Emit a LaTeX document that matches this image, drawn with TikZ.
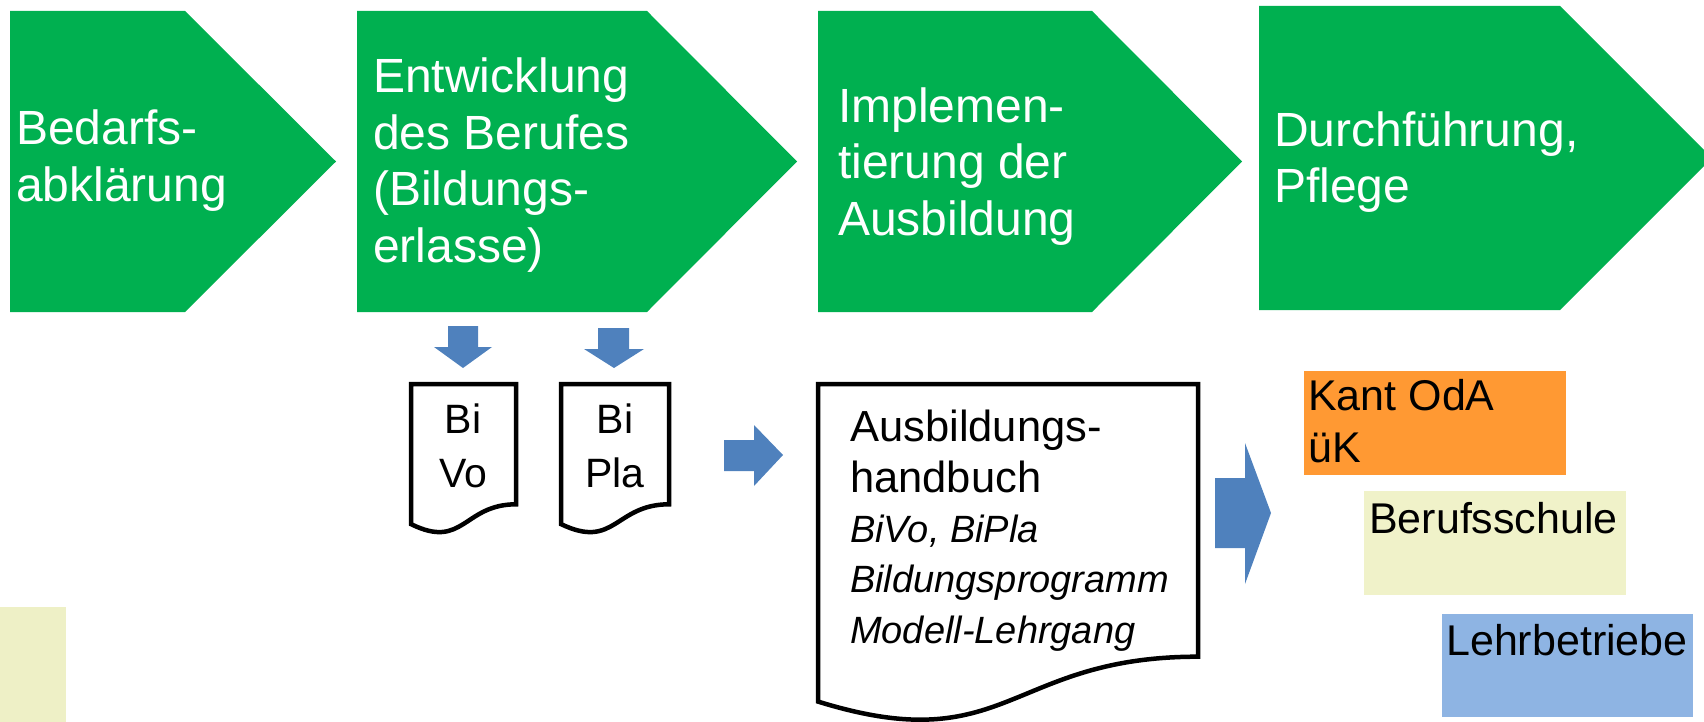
\documentclass[tikz,border=0pt]{standalone}
\usepackage{fontspec}
\setmainfont{Liberation Sans}
\definecolor{chevgreen}{HTML}{00B050}
\definecolor{arrowblue}{HTML}{4F81BD}
\definecolor{odaorange}{HTML}{FF9933}
\definecolor{schoolyellow}{HTML}{F0F2C9}
\definecolor{firmblue}{HTML}{8EB4E3}
\definecolor{cornerYellow}{HTML}{EEF0C6}
\begin{document}
\begin{tikzpicture}[x=1pt,y=-1pt,
  chev/.style={fill=chevgreen},
  ctext/.style={text=white,font=\fontsize{48}{56.5}\selectfont,align=left,anchor=base west,inner sep=0pt},
  blockarrow/.style={fill=arrowblue},
  docline/.style={draw=black,line width=4.5pt,fill=white,line join=miter},
  dtext/.style={font=\fontsize{41}{54}\selectfont,align=center,anchor=base,inner sep=0pt},
  boxtext/.style={font=\fontsize{43}{52}\selectfont,align=left,anchor=base west,inner sep=0pt},
  colbox/.style={rectangle,inner sep=0pt,anchor=north west}
]
\useasboundingbox (0,0) rectangle (1704,722);
\clip (0,0) rectangle (1704,722);
% corner block
\fill[cornerYellow] (0,607) rectangle (66,722);
% chevrons
\fill[chev] (10,11) -- (185,11) -- (336,161.5) -- (185,312) -- (10,312) -- cycle;
\fill[chev] (357,11) -- (647,11) -- (797,161.5) -- (647,312) -- (357,312) -- cycle;
\fill[chev] (818,11) -- (1092,11) -- (1242,161.5) -- (1092,312) -- (818,312) -- cycle;
\fill[chev] (1259,6) -- (1560,6) -- (1712,158) -- (1560,310) -- (1259,310) -- cycle;
% (base anchor of a multi-line node = baseline of its last line)
\node[ctext] (t1) at (16,201) {Bedarfs-\\abklärung};
\node[ctext] (t2) at (373,262) {Entwicklung\\des Berufes\\(Bildungs-\\erlasse)};
\node[ctext] (t3) at (838,235) {Implemen-\\tierung der\\Ausbildung};
\node[ctext] (t4) at (1274,203) {Durchführung,\\Pflege};
% down arrows
\fill[blockarrow] (448,326) -- (478,326) -- (478,347) -- (492,347) -- (463,368) -- (434,347) -- (448,347) -- cycle;
\fill[blockarrow] (598,328) -- (629,328) -- (629,349) -- (644,349) -- (614,368) -- (584,349) -- (598,349) -- cycle;
% documents
\draw[docline] (411,384) -- (516,384) -- (516,{384+0.802*150})
  .. controls ({(411+516)/2},{384+0.802*150}) and ({(411+516)/2},{384+1.1075*150}) .. (411,{384+0.934*150}) -- cycle;
\draw[docline] (561,384) -- (669,384) -- (669,{384+0.802*150})
  .. controls ({(561+669)/2},{384+0.802*150}) and ({(561+669)/2},{384+1.1075*150}) .. (561,{384+0.934*150}) -- cycle;
\node[dtext] (bivo) at (463,487) {Bi\\Vo};
\node[dtext] (bipla) at (615,487) {Bi\\Pla};
% small right arrow
\fill[blockarrow] (724,440) -- (754,440) -- (754,425) -- (783,455) -- (754,486) -- (754,471) -- (724,471) -- cycle;
% big document
\draw[docline] (818,384) -- (1198,384) -- (1198,{384+0.802*340})
  .. controls (1008,{384+0.802*340}) and (1008,{384+1.1075*340}) .. (818,{384+0.934*340}) -- cycle;
\node[anchor=base west,align=left,inner sep=0pt,font=\fontsize{43.5}{50.3}\selectfont] (hb) at (850,643)
  {Ausbildungs-\\
   handbuch\\
   \fontsize{38}{50.3}\selectfont\itshape BiVo, BiPla\\
   \fontsize{38}{50.3}\selectfont\itshape Bildungsprogramm\\
   \fontsize{38}{50.3}\selectfont\itshape Modell-Lehrgang};
% big right arrow
\fill[blockarrow] (1215,478) -- (1245,478) -- (1245,443) -- (1271,513) -- (1245,584) -- (1245,548) -- (1215,548) -- cycle;
% coloured boxes
\node[colbox,fill=odaorange,minimum width=262pt,minimum height=104pt] (oda) at (1304,371) {};
\node[boxtext] (odat) at (1308,462) {Kant OdA\\üK};
\node[colbox,fill=schoolyellow,minimum width=262pt,minimum height=104pt] (bs) at (1364,491) {};
\node[boxtext] (bst) at (1369,533) {Berufsschule};
\node[colbox,fill=firmblue,minimum width=251pt,minimum height=103pt] (lb) at (1442,614) {};
\node[boxtext] (lbt) at (1446,655) {Lehrbetriebe};
\end{tikzpicture}
\end{document}
